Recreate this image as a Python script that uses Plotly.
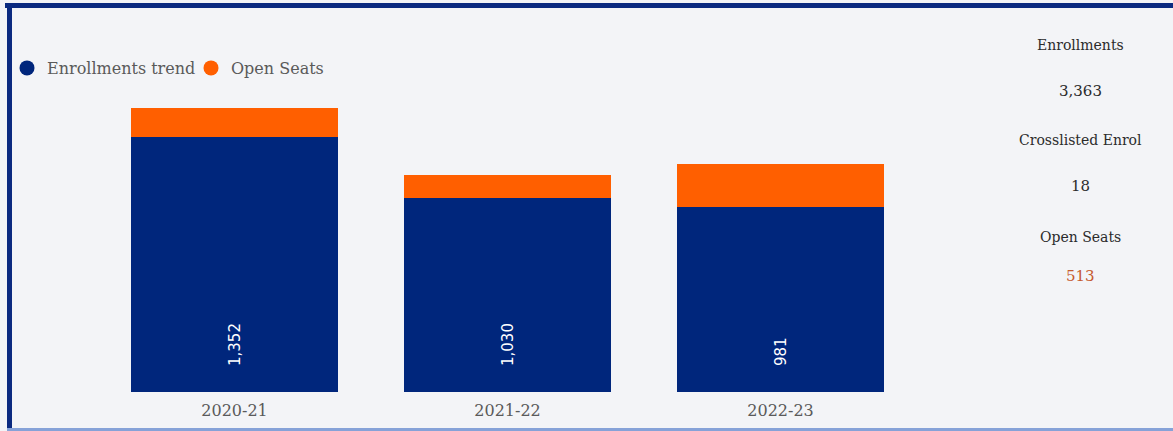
import plotly.graph_objects as go

# ---- data ----
years = ["2020-21", "2021-22", "2022-23"]
enrollments = [1352, 1030, 981]
open_seats = [158, 123, 232]
kpi_labels = ["Enrollments", "Crosslisted Enrol", "Open Seats"]
kpi_values = ["3,363", "18", "513"]

NAVY = "#00267c"
ORANGE = "#ff5f00"
BG = "#f3f4f7"

W, H = 1173, 431
L, R, T, B = 98, 256, 90, 39
PW, PH = W - L - R, H - T - B


def px_x(x):
    return (x - L) / PW


def px_y(y):
    return (H - B - y) / PH


fig = go.Figure()
fig.add_bar(x=years, y=enrollments, marker=dict(color=NAVY, line=dict(width=0)),
            showlegend=False, name="Enrollments trend", hoverinfo="x+y")
fig.add_bar(x=years, y=open_seats, marker=dict(color=ORANGE, line=dict(width=0)),
            showlegend=False, name="Open Seats", hoverinfo="x+y")

# legend entries with circle markers
fig.add_scatter(x=[None], y=[None], mode="markers", name="Enrollments trend",
                marker=dict(color=NAVY, size=15, symbol="circle"))
fig.add_scatter(x=[None], y=[None], mode="markers", name="Open Seats",
                marker=dict(color=ORANGE, size=15, symbol="circle"))

# bar value labels
for yr, v in zip(years, enrollments):
    fig.add_annotation(x=yr, y=0, xref="x", yref="y", text=f"{v:,}",
                       textangle=-90, showarrow=False, yanchor="bottom",
                       yshift=24, font=dict(family="DejaVu Sans", size=15, color="white"))

# KPI panel
label_y = [45, 140, 237]
value_y = [91, 186, 276]
value_colors = ["#2b2b2b", "#2b2b2b", "#c65a2e"]
for lab, val, ly, vy, vc in zip(kpi_labels, kpi_values, label_y, value_y, value_colors):
    fig.add_annotation(x=px_x(1080), y=px_y(ly), xref="paper", yref="paper", text=lab,
                       showarrow=False, xanchor="center", yanchor="middle",
                       font=dict(family="DejaVu Serif", size=14, color="#2b2b2b"))
    fig.add_annotation(x=px_x(1080), y=px_y(vy), xref="paper", yref="paper", text=val,
                       showarrow=False, xanchor="center", yanchor="middle",
                       font=dict(family="DejaVu Serif", size=15, color=vc))

# frame lines
fig.add_shape(type="line", xref="paper", yref="paper", x0=px_x(5), x1=px_x(1180),
              y0=px_y(5.5), y1=px_y(5.5), line=dict(color="#0b2a80", width=5))
fig.add_shape(type="line", xref="paper", yref="paper", x0=px_x(9.5), x1=px_x(9.5),
              y0=px_y(3), y1=px_y(430), line=dict(color="#0b2a80", width=5))
fig.add_shape(type="line", xref="paper", yref="paper", x0=px_x(7), x1=px_x(1180),
              y0=px_y(429.5), y1=px_y(429.5), line=dict(color="#86a2d8", width=3))

fig.update_layout(
    width=W, height=H,
    margin=dict(l=L, r=R, t=T, b=B, autoexpand=False),
    barmode="stack", bargap=0.245,
    paper_bgcolor=BG, plot_bgcolor=BG,
    font=dict(family="DejaVu Serif", size=16, color="#5a5a5a"),
    showlegend=True,
    legend=dict(orientation="h", xref="container", yref="container",
                x=7 / W, y=1 - 68 / H, xanchor="left", yanchor="middle",
                bgcolor="rgba(0,0,0,0)", font=dict(family="DejaVu Serif", size=16, color="#5a5a5a"),
                itemwidth=30, traceorder="normal", entrywidth=139, entrywidthmode="pixels"),
    xaxis=dict(showgrid=False, zeroline=False, showline=False, ticks="",
               ticklabelstandoff=7,
               tickfont=dict(family="DejaVu Serif", size=16, color="#5a5a5a")),
    yaxis=dict(range=[0, PH / 0.1883], visible=False, showgrid=False),
)

fig.write_html("out.html", config={"displayModeBar": False},
               post_script="document.body.style.margin='0';")
